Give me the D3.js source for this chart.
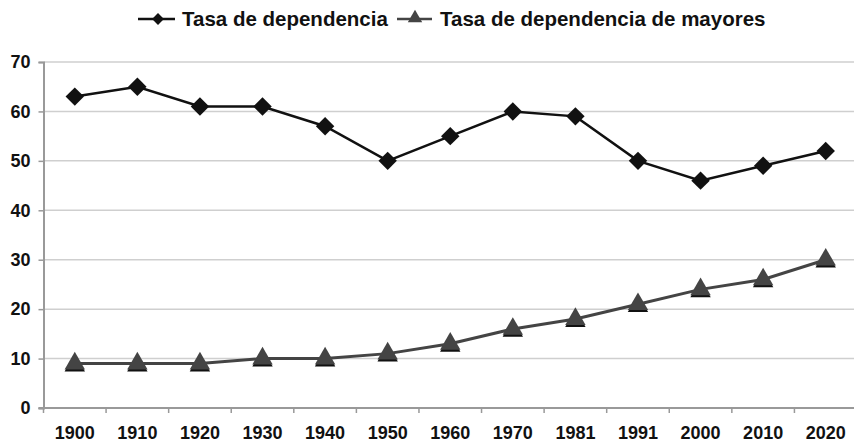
<!DOCTYPE html>
<html>
<head>
<meta charset="utf-8">
<script src="https://cdn.jsdelivr.net/npm/d3@7"></script>
<style>
  body { margin: 0; background: #fff; }
  svg text { font-family: "Liberation Sans", Arial, sans-serif; font-weight: bold; fill: #111; }
</style>
</head>
<body>
<div id="chart"></div>
<script>
const years = ["1900", "1910", "1920", "1930", "1940", "1950", "1960", "1970", "1981", "1991", "2000", "2010", "2020"];
const dependencia = [63, 65, 61, 61, 57, 50, 55, 60, 59, 50, 46, 49, 52];
const mayores = [9, 9, 9, 10, 10, 11, 13, 16, 18, 21, 24, 26, 30];
const yTicks = [0, 10, 20, 30, 40, 50, 60, 70];
const seriesNames = ["Tasa de dependencia", "Tasa de dependencia de mayores"];

const W = 854, H = 442;
const margin = { left: 43.5, right: 857, top: 62, bottom: 408 };

const svg = d3.select("#chart").append("svg")
    .attr("width", W)
    .attr("height", H);

const x = d3.scaleBand().domain(years).range([margin.left, margin.right]).padding(0);
const y = d3.scaleLinear().domain([0, 70]).range([margin.bottom, margin.top]);

// gridlines
svg.append("g")
    .selectAll("line")
    .data(yTicks.filter(d => d > 0))
    .enter()
    .append("line")
    .attr("x1", margin.left).attr("x2", W)
    .attr("y1", d => y(d)).attr("y2", d => y(d))
    .attr("stroke", "#cfcfcf")
    .attr("stroke-width", 1.5);

// y axis
const yAxis = svg.append("g")
    .attr("transform", `translate(${margin.left}, 0)`)
    .call(d3.axisLeft(y).tickValues(yTicks).tickSize(5).tickPadding(8));
yAxis.select(".domain").attr("stroke", "#999").attr("stroke-width", 2);
yAxis.selectAll(".tick line").attr("stroke", "#999").attr("stroke-width", 1.5);
yAxis.selectAll("text").style("font-size", "18px").attr("fill", "#111");

// x axis line and ticks at band edges
svg.append("line")
    .attr("x1", margin.left - 5).attr("x2", W)
    .attr("y1", margin.bottom).attr("y2", margin.bottom)
    .attr("stroke", "#999").attr("stroke-width", 2);

const edges = years.map(d => x(d)).concat([x.range()[1]]);
svg.append("g")
    .selectAll("line")
    .data(edges)
    .enter()
    .append("line")
    .attr("x1", d => d).attr("x2", d => d)
    .attr("y1", margin.bottom).attr("y2", margin.bottom + 5)
    .attr("stroke", "#999").attr("stroke-width", 1.5);

const xAxis = svg.append("g")
    .attr("transform", `translate(0, ${margin.bottom})`)
    .call(d3.axisBottom(x).tickSize(0).tickPadding(18));
xAxis.select(".domain").remove();
xAxis.selectAll("text").style("font-size", "18px").attr("fill", "#111");

const cx = (d, i) => x(years[i]) + x.bandwidth() / 2;

// lines
const line = d3.line().x(cx).y(d => y(d));

svg.append("path")
    .datum(mayores)
    .attr("d", line)
    .attr("fill", "none")
    .attr("stroke", "#444")
    .attr("stroke-width", 3);

svg.append("path")
    .datum(dependencia)
    .attr("d", line)
    .attr("fill", "none")
    .attr("stroke", "#111")
    .attr("stroke-width", 2.5);

// markers
const diamond = d3.symbol().type(d3.symbolSquare).size(170);
const tri = d3.symbol().type(d3.symbolTriangle).size(180);

svg.selectAll("shadowTri")
    .data(mayores)
    .enter()
    .append("path")
    .attr("d", tri)
    .attr("transform", (d, i) => `translate(${cx(d, i)}, ${y(d) + 2})`)
    .attr("fill", "#111");

svg.selectAll("myTri")
    .data(mayores)
    .enter()
    .append("path")
    .attr("d", tri)
    .attr("transform", (d, i) => `translate(${cx(d, i)}, ${y(d)})`)
    .attr("fill", "#444");

svg.selectAll("myDiamond")
    .data(dependencia)
    .enter()
    .append("path")
    .attr("d", diamond)
    .attr("transform", (d, i) => `translate(${cx(d, i)}, ${y(d)}) rotate(45)`)
    .attr("fill", "#111");

// legend
const legend = svg.append("g").attr("transform", "translate(0, 19)");

legend.append("line")
    .attr("x1", 138).attr("x2", 175).attr("y1", 0).attr("y2", 0)
    .attr("stroke", "#111").attr("stroke-width", 2.5);
legend.append("path")
    .attr("d", d3.symbol().type(d3.symbolSquare).size(70))
    .attr("transform", "translate(158, 0) rotate(45)")
    .attr("fill", "#111");
legend.append("text")
    .attr("x", 182).attr("y", 7)
    .style("font-size", "20.5px")
    .text(seriesNames[0]);

legend.append("line")
    .attr("x1", 397).attr("x2", 432).attr("y1", 0).attr("y2", 0)
    .attr("stroke", "#444").attr("stroke-width", 2.5);
legend.append("path")
    .attr("d", d3.symbol().type(d3.symbolTriangle).size(90))
    .attr("transform", "translate(415, -1)")
    .attr("fill", "#444");
legend.append("text")
    .attr("x", 440).attr("y", 7)
    .style("font-size", "20.5px")
    .text(seriesNames[1]);
</script>
</body>
</html>
